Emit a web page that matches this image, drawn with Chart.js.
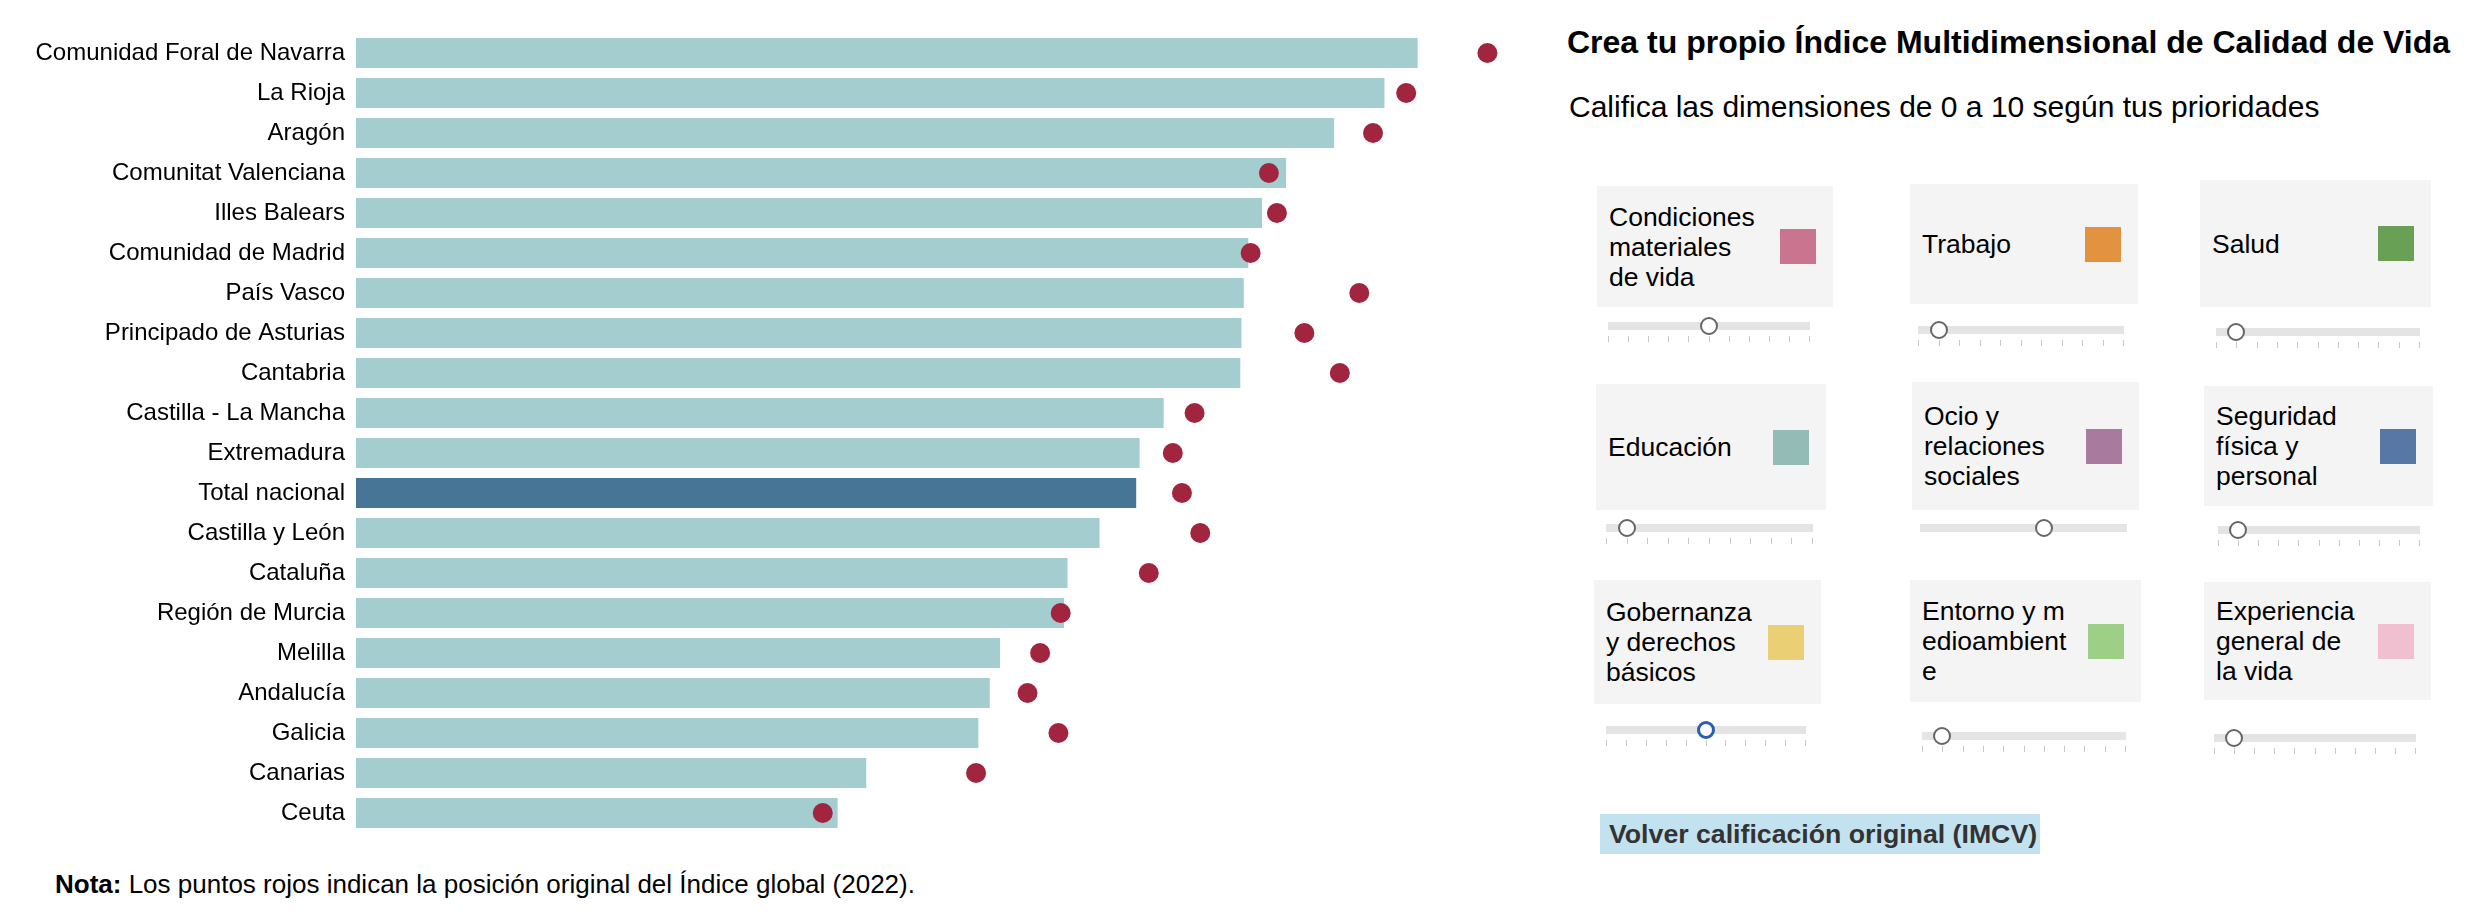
<!DOCTYPE html>
<html lang="es">

<head>
    <meta charset="UTF-8">
    <title>Índice Multidimensional de Calidad de Vida</title>
    <script src="https://cdn.jsdelivr.net/npm/chart.js"></script>
    <style>
        body {
            margin: 0;
            width: 2482px;
            height: 924px;
            overflow: hidden;
            background: #fff;
            font-family: "Liberation Sans", Arial, sans-serif;
            color: #000;
            position: relative;
        }

        #chart-box {
            position: absolute;
            left: 0;
            top: 33px;
            width: 1500px;
            height: 800px;
        }

        #nota {
            position: absolute;
            left: 55px;
            top: 871px;
            font-size: 26px;
            line-height: 26px;
            white-space: nowrap;
        }

        #title {
            position: absolute;
            left: 1567px;
            top: 26px;
            font-size: 32px;
            line-height: 32px;
            font-weight: bold;
            white-space: nowrap;
        }

        #subtitle {
            position: absolute;
            left: 1569px;
            top: 92px;
            font-size: 30px;
            line-height: 30px;
            white-space: nowrap;
        }

        .card {
            position: absolute;
            background: #f4f4f4;
            display: flex;
            align-items: center;
            justify-content: space-between;
            box-sizing: border-box;
            padding: 0 17px 0 12px;
        }

        .card .name {
            font-size: 26.5px;
            line-height: 30px;
            white-space: pre-line;
        }

        .card .swatch {
            width: 36px;
            height: 35px;
            flex: none;
        }

        .track {
            position: absolute;
            height: 8px;
            background: #e4e4e4;
        }

        .tick {
            position: absolute;
            top: 14px;
            width: 1px;
            height: 6px;
            background: #c8c8c8;
        }

        .knob {
            position: absolute;
            top: -5px;
            width: 14px;
            height: 14px;
            margin-left: -9px;
            border: 2px solid #666;
            border-radius: 50%;
            background: #fff;
        }

        .knob.active {
            border: 3px solid #2a5ea8;
            width: 12px;
            height: 12px;
        }

        #reset {
            position: absolute;
            left: 1600px;
            top: 814px;
            height: 40px;
            line-height: 40px;
            padding: 0 3px 0 9px;
            background: #c3e2ef;
            color: #333;
            font-size: 26.7px;
            font-weight: bold;
            white-space: nowrap;
        }
    </style>
</head>

<body>
    <div id="chart-box"><canvas id="bar-chart"></canvas></div>
    <div id="nota"><b>Nota:</b> Los puntos rojos indican la posición original del Índice global (2022).</div>

    <div id="title">Crea tu propio Índice Multidimensional de Calidad de Vida</div>
    <div id="subtitle">Califica las dimensiones de 0 a 10 según tus prioridades</div>
    <div id="panel"></div>
    <div id="reset">Volver calificación original (IMCV)</div>

    <script>
        // regions, sorted by the recomputed index
        const regions = [
            'Comunidad Foral de Navarra', 'La Rioja', 'Aragón', 'Comunitat Valenciana', 'Illes Balears',
            'Comunidad de Madrid', 'País Vasco', 'Principado de Asturias', 'Cantabria', 'Castilla - La Mancha',
            'Extremadura', 'Total nacional', 'Castilla y León', 'Cataluña', 'Región de Murcia',
            'Melilla', 'Andalucía', 'Galicia', 'Canarias', 'Ceuta'
        ];
        // index with the user's weights (bars)
        const customIndex = [
            92.8, 89.9, 85.5, 81.3, 79.2, 78.0, 77.6, 77.4, 77.3, 70.6,
            68.5, 68.2, 65.0, 62.2, 61.9, 56.3, 55.4, 54.4, 44.6, 42.1
        ];
        // original global index 2022 (red dots)
        const originalIndex = [
            98.9, 91.8, 88.9, 79.8, 80.5, 78.2, 87.7, 82.9, 86.0, 73.3,
            71.4, 72.2, 73.8, 69.3, 61.6, 59.8, 58.7, 61.4, 54.2, 40.8
        ];
        const totalLabel = 'Total nacional';

        // dimensions of the index and their slider ratings (0 to 10)
        const dimensions = [
            'Condiciones\nmateriales\nde vida', 'Trabajo', 'Salud',
            'Educación', 'Ocio y\nrelaciones\nsociales', 'Seguridad\nfísica y\npersonal',
            'Gobernanza\ny derechos\nbásicos', 'Entorno y m\nedioambient\ne', 'Experiencia\ngeneral de\nla vida'
        ];
        const ratings = [5, 1, 1, 1, 6, 1, 5, 1, 1];
        const dimensionColors = [
            '#c9758f', '#e3923f', '#68a055', '#93bcb7', '#a87a9d', '#5777a4', '#ebcf75', '#9dcf86', '#f0c0d1'
        ];

        // card layout (left, top, width, height) and slider track (left, top, width)
        const cardBoxes = [
            [1597, 186, 236, 121], [1910, 184, 228, 120], [2200, 180, 231, 127],
            [1596, 384, 230, 126], [1912, 382, 227, 128], [2204, 386, 229, 120],
            [1594, 580, 227, 124], [1910, 580, 231, 122], [2204, 582, 227, 118]
        ];
        const trackBoxes = [
            [1608, 322, 202], [1918, 326, 206], [2216, 328, 204],
            [1606, 524, 207], [1920, 524, 207], [2218, 526, 202],
            [1606, 726, 200], [1922, 732, 204], [2214, 734, 202]
        ];

        const panel = document.getElementById('panel');
        dimensions.forEach(function (name, i) {
            const b = cardBoxes[i];
            const card = document.createElement('div');
            card.className = 'card';
            card.style.left = b[0] + 'px';
            card.style.top = b[1] + 'px';
            card.style.width = b[2] + 'px';
            card.style.height = b[3] + 'px';
            card.innerHTML = '<div class="name"></div><div class="swatch"></div>';
            card.querySelector('.name').textContent = name;
            card.querySelector('.swatch').style.background = dimensionColors[i];
            panel.appendChild(card);

            const t = trackBoxes[i];
            const track = document.createElement('div');
            track.className = 'track';
            track.style.left = t[0] + 'px';
            track.style.top = t[1] + 'px';
            track.style.width = t[2] + 'px';
            // the "Ocio" slider shows no tick marks in the original
            if (i !== 4) {
                for (let k = 0; k <= 10; k++) {
                    const tick = document.createElement('div');
                    tick.className = 'tick';
                    tick.style.left = (k / 10 * (t[2] - 1)) + 'px';
                    track.appendChild(tick);
                }
            }
            const knob = document.createElement('div');
            knob.className = 'knob' + (i === 6 ? ' active' : '');
            knob.style.left = (ratings[i] / 10 * t[2]) + 'px';
            track.appendChild(knob);
            panel.appendChild(track);
        });

        const barColors = regions.map(r => r === totalLabel ? '#467596' : '#a3cdce');

        new Chart(document.getElementById('bar-chart'), {
            type: 'bar',
            data: {
                labels: regions,
                datasets: [{
                    type: 'line',
                    label: 'Índice global (2022)',
                    data: originalIndex,
                    indexAxis: 'y',
                    showLine: false,
                    pointRadius: 10,
                    pointHoverRadius: 10,
                    pointBackgroundColor: '#a2253f',
                    pointBorderWidth: 0,
                    clip: false,
                    order: 1
                }, {
                    label: 'Índice personalizado',
                    data: customIndex,
                    indexAxis: 'y',
                    backgroundColor: barColors,
                    barPercentage: 0.75,
                    categoryPercentage: 1,
                    order: 2
                }]
            },
            options: {
                indexAxis: 'y',
                responsive: true,
                maintainAspectRatio: false,
                animation: false,
                layout: { padding: 0, autoPadding: false },
                plugins: {
                    legend: { display: false },
                    tooltip: { enabled: false }
                },
                scales: {
                    x: {
                        display: false,
                        min: 0,
                        max: 100
                    },
                    y: {
                        grid: { display: false, drawTicks: false },
                        border: { display: false },
                        ticks: {
                            color: '#000',
                            padding: 11,
                            font: { family: '"Liberation Sans", Arial, sans-serif', size: 24 }
                        },
                        afterFit: function (scale) {
                            // fixed label column, and no extra room above/below the rows
                            scale.width = 356;
                            scale.paddingTop = 0;
                            scale.paddingBottom = 0;
                        }
                    }
                }
            }
        });
    </script>
</body>

</html>
